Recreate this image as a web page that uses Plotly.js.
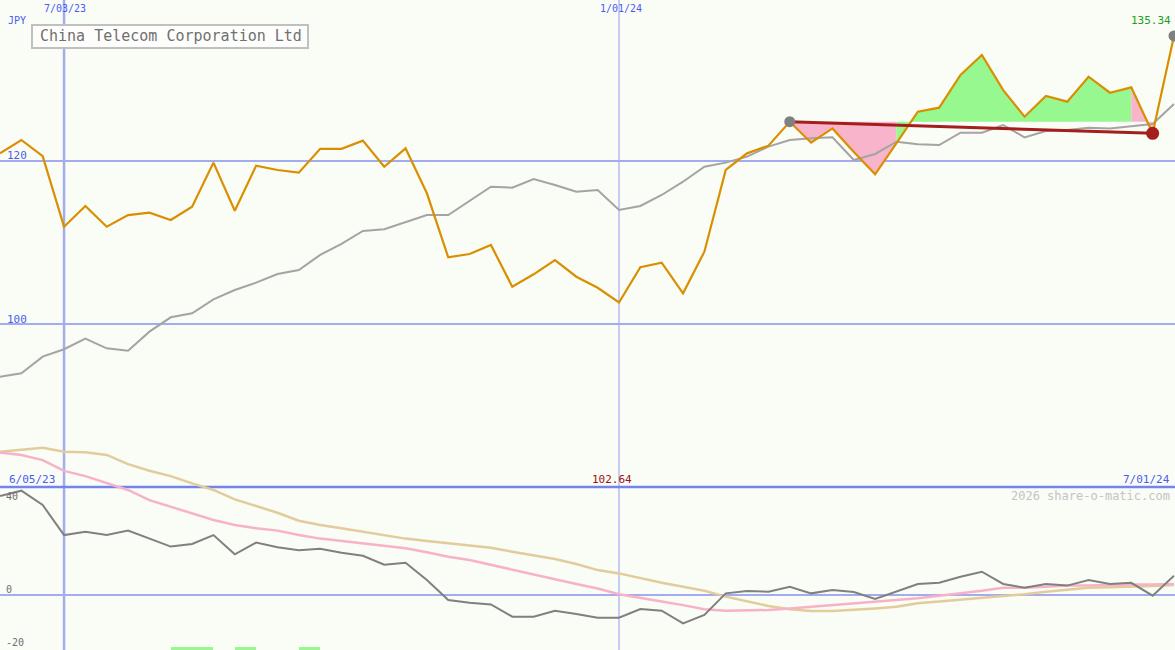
<!DOCTYPE html>
<html>
<head>
<meta charset="utf-8">
<script src="https://cdn.plot.ly/plotly-3.0.1.min.js"></script>
<style>html,body{margin:0;padding:0;background:#fafcf6;}#chart{width:1175px;height:650px;}</style>
</head>
<body>
<div id="chart"></div>
<script>
// ---- data (weekly) ----
const dates = [
 '2023-06-12','2023-06-19','2023-06-26','2023-07-03','2023-07-10','2023-07-17','2023-07-24','2023-07-31',
 '2023-08-07','2023-08-14','2023-08-21','2023-08-28','2023-09-04','2023-09-11','2023-09-18','2023-09-25',
 '2023-10-02','2023-10-09','2023-10-16','2023-10-23','2023-10-30','2023-11-06','2023-11-13','2023-11-20',
 '2023-11-27','2023-12-04','2023-12-11','2023-12-18','2023-12-25','2024-01-01','2024-01-08','2024-01-15',
 '2024-01-22','2024-01-29','2024-02-05','2024-02-12','2024-02-19','2024-02-26','2024-03-04','2024-03-11',
 '2024-03-18','2024-03-25','2024-04-01','2024-04-08','2024-04-15','2024-04-22','2024-04-29','2024-05-06',
 '2024-05-13','2024-05-20','2024-05-27','2024-06-03','2024-06-10','2024-06-17','2024-06-24','2024-07-01'];

const closePrice = [
 120.95,122.58,120.6,111.94,114.48,111.94,113.37,113.66,112.76,114.4,
 119.8,113.9,119.43,118.9,118.57,121.5,121.5,122.5,119.3,121.55,
 116.04,108.18,108.59,109.69,104.58,106.1,107.85,105.8,104.45,102.64,
 106.96,107.52,103.77,108.87,118.9,120.94,121.88,124.82,122.25,124.0,
 121.1,118.37,122.2,126.05,126.54,130.55,133.0,128.7,125.44,127.98,
 127.28,130.34,128.38,129.04,123.4,135.34];

const movingAvg = [
 93.53,93.95,95.99,96.9,98.2,97.02,96.73,99.06,100.82,101.31,
 103.03,104.17,105.07,106.13,106.63,108.47,109.82,111.41,111.62,112.45,
 113.37,113.37,115.09,116.85,116.73,117.79,117.06,116.23,116.44,113.99,
 114.48,115.83,117.46,119.3,119.8,120.53,121.76,122.58,122.78,122.9,
 120.12,120.86,122.37,122.05,121.96,123.47,123.47,124.42,122.9,123.68,
 123.8,124.09,124.0,124.29,124.54,127.0];

const momentum = [
 42.1,44.4,38.3,25.5,26.9,25.5,27.4,24.1,20.6,21.7,
 25.5,17.3,22.3,20.3,19.0,19.7,18.0,16.7,12.9,13.7,
 6.4,-2.1,-3.3,-4.0,-9.2,-9.2,-6.7,-8.1,-9.7,-9.7,
 -6.0,-6.7,-12.1,-8.5,0.7,1.7,1.4,3.5,0.7,2.1,
 1.3,-1.7,1.4,4.7,5.2,7.8,9.9,4.7,3.1,4.7,
 4.0,6.4,4.7,5.2,-0.3,8.2];

const momentumAvgFast = [
 60.6,59.6,57.4,52.8,50.6,47.8,44.7,40.4,37.6,34.5,
 31.9,29.8,28.4,27.4,25.5,24.0,23.0,21.7,20.9,19.9,
 18.2,16.3,14.9,12.8,10.6,8.5,6.7,4.7,2.8,0.3,
 -1.4,-2.8,-4.3,-6.1,-6.7,-6.7,-6.4,-5.7,-5.0,-4.3,
 -3.5,-3.0,-2.4,-1.4,-0.3,0.7,1.8,3.1,3.1,3.5,
 4.0,4.0,4.3,4.5,4.5,4.7];

const momentumAvgSlow = [
 61.0,62.0,62.7,61.0,60.7,59.6,55.7,52.9,50.6,47.5,
 44.7,40.7,37.9,35.0,31.6,29.8,28.4,26.9,25.5,24.0,
 23.0,22.0,21.1,20.1,18.4,17.0,15.3,13.2,10.6,9.2,
 7.1,5.2,3.5,1.8,-0.7,-2.8,-4.7,-6.1,-6.8,-6.8,
 -6.4,-5.7,-5.0,-3.5,-2.8,-2.1,-1.4,-0.7,0.3,1.4,
 2.4,3.1,3.3,3.5,3.8,4.3];

const signalDates = ['2023-08-07','2023-08-14','2023-08-28','2023-09-18'];
const signalSize = [3,3,3,3];

const priceTicks = [120, 100];
const priceTickLabels = ['120','100'];
const momTicks = [40, 0, -20];
const momTickLabels = ['40','0','-20'];
const trendStart = 37, trendEnd = 54;
const minLabel = '102.64';
const lastLabel = '135.34';

// ---- colours ----
const C = {
  bg:'#fafcf6', grid:'#a4acf0', sep:'#7484ec', blue:'#4a5cf0',
  orange:'#d98f00', gray:'#a4a4a4', dgray:'#808080', pink:'#f8b2c8',
  tan:'#e2cc9c', green:'#98f890', pinkFill:'#f8b4ca', red:'#a41e1e'
};

const W = 1175, H = 650;
const px = v => v / W, py = v => 1 - v / H;

const ref = closePrice[trendStart];
function seg(a, b) { return {x: dates.slice(a, b + 1), y: closePrice.slice(a, b + 1)}; }
function fillPair(a, b, color) {
  const s = seg(a, b);
  return [
    {x: s.x, y: s.x.map(() => ref), mode: 'lines', line: {width: 0, color: color}, hoverinfo: 'skip', showlegend: false},
    {x: s.x, y: s.y, mode: 'lines', fill: 'tonexty', fillcolor: color, line: {width: 0, color: color}, hoverinfo: 'skip', showlegend: false}
  ];
}

const traces = [];
traces.push(...fillPair(37, 42, C.pinkFill));
traces.push(...fillPair(42, 53, C.green));
traces.push(...fillPair(53, 54, C.pinkFill));

// lower panel
traces.push({x: signalDates, y: signalSize, base: -25.2, type: 'bar', yaxis: 'y2', marker: {color: C.green},
  width: 7 * 86400000 * 0.98, offset: 0, hoverinfo: 'skip', showlegend: false});
traces.push({x: dates, y: momentumAvgSlow, yaxis: 'y2', mode: 'lines', line: {color: C.tan, width: 2.5}, showlegend: false});
traces.push({x: dates, y: momentumAvgFast, yaxis: 'y2', mode: 'lines', line: {color: C.pink, width: 2.5}, showlegend: false});
traces.push({x: dates, y: momentum, yaxis: 'y2', mode: 'lines', line: {color: C.dgray, width: 2}, showlegend: false});

// upper panel
traces.push({x: dates, y: movingAvg, mode: 'lines', line: {color: C.gray, width: 2}, showlegend: false});
traces.push({x: dates, y: closePrice, mode: 'lines', line: {color: C.orange, width: 2.2}, showlegend: false});
traces.push({x: [dates[trendStart], dates[trendEnd]], y: [closePrice[trendStart], closePrice[trendEnd]],
  mode: 'lines', line: {color: C.red, width: 3}, showlegend: false});
traces.push({x: [dates[trendStart], dates[dates.length - 1]], y: [closePrice[trendStart], closePrice[closePrice.length - 1]],
  mode: 'markers', marker: {color: C.dgray, size: 11}, showlegend: false});
traces.push({x: [dates[trendEnd]], y: [closePrice[trendEnd]], mode: 'markers', marker: {color: C.red, size: 13}, showlegend: false});

const font = 'DejaVu Sans Mono, monospace';
const shapes = [];
priceTicks.forEach(v => shapes.push({type: 'line', xref: 'paper', yref: 'y', x0: 0, x1: 1, y0: v, y1: v,
  line: {color: C.grid, width: 2}, layer: 'below'}));
shapes.push({type: 'line', xref: 'paper', yref: 'y2', x0: 0, x1: 1, y0: 0, y1: 0, line: {color: C.grid, width: 2}, layer: 'below'});
shapes.push({type: 'line', xref: 'x', yref: 'paper', x0: '2023-07-03', x1: '2023-07-03', y0: 0, y1: 1, line: {color: C.grid, width: 2.5}, layer: 'below'});
shapes.push({type: 'line', xref: 'x', yref: 'paper', x0: '2024-01-01', x1: '2024-01-01', y0: 0, y1: 1, line: {color: C.grid, width: 1.2}, layer: 'below'});
shapes.push({type: 'line', xref: 'paper', yref: 'paper', x0: 0, x1: 1, y0: py(487), y1: py(487), line: {color: C.sep, width: 2.5}, layer: 'below'});
// title box
shapes.push({type: 'rect', xref: 'paper', yref: 'paper', x0: px(32), x1: px(308), y0: py(48), y1: py(25),
  line: {color: '#c0c0c0', width: 2}, fillcolor: '#fdfdfb', layer: 'above'});

function ann(text, x, y, xanchor, color, size) {
  return {text: text, xref: 'paper', yref: 'paper', x: px(x), y: py(y), xanchor: xanchor, yanchor: 'middle',
    showarrow: false, font: {family: font, size: size || 10, color: color}};
}
const annotations = [
  ann('China Telecom Corporation Ltd', 38, 36.5, 'left', '#707070', 15),
  ann('JPY', 6, 20, 'left', C.blue, 10),
  ann('7/03/23', 65, 8, 'center', C.blue, 10),
  ann('1/01/24', 621, 8, 'center', C.blue, 10),
  ann(lastLabel, 1173, 20, 'right', '#20a020', 11),
  ann('6/05/23', 7, 479, 'left', C.blue, 11),
  ann(minLabel, 612, 479, 'center', '#a01010', 11),
  ann('7/01/24', 1172, 479, 'right', C.blue, 11),
  ann('2026 share-o-matic.com', 1172, 496, 'right', '#c4c4c4', 12)
];
const priceLabelY = [155, 319];
priceTicks.forEach((v, i) => annotations.push(ann(priceTickLabels[i], 5, priceLabelY[i], 'left', C.blue, 11)));
const momLabelY = [496, 589, 642];
momTicks.forEach((v, i) => annotations.push(ann(momTickLabels[i], 4, momLabelY[i], 'left', '#707070', 10)));

const layout = {
  width: W, height: H,
  margin: {l: 0, r: 0, t: 0, b: 0, pad: 0},
  paper_bgcolor: C.bg, plot_bgcolor: C.bg,
  showlegend: false,
  bargap: 0,
  xaxis: {type: 'date', range: ['2023-06-12', '2024-07-01 08:00'], showgrid: false, zeroline: false,
    showticklabels: false, showline: false, ticks: ''},
  yaxis: {range: [60.0, 139.755], showgrid: false, zeroline: false, showticklabels: false, showline: false},
  yaxis2: {range: [-23.4, 253.19], overlaying: 'y', showgrid: false, zeroline: false, showticklabels: false, showline: false},
  shapes: shapes,
  annotations: annotations
};

Plotly.newPlot('chart', traces, layout, {staticPlot: true, displayModeBar: false});
</script>
</body>
</html>
